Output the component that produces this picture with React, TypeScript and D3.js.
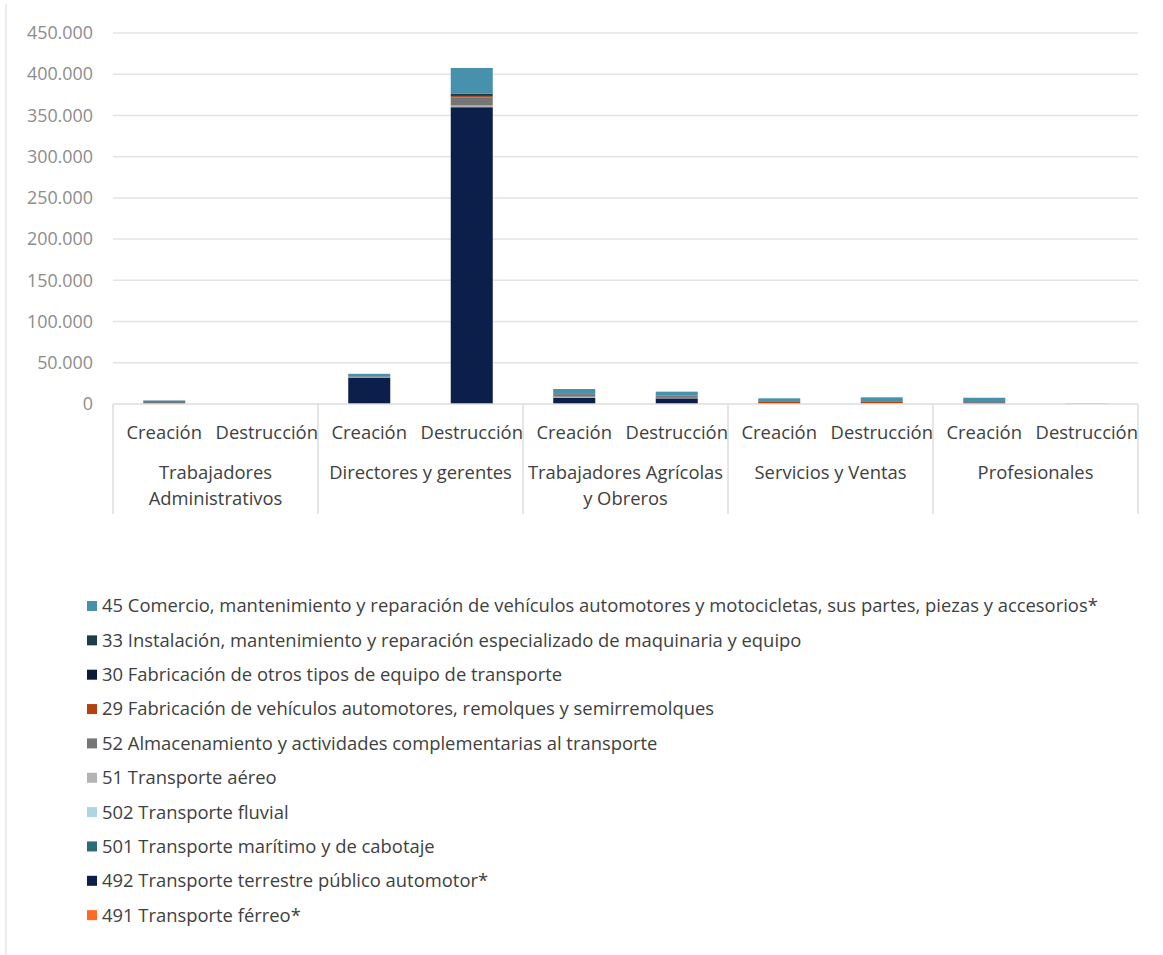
import React from "react";
import * as d3 from "d3";

const groups = [
  ["Trabajadores", "Administrativos"],
  ["Directores y gerentes"],
  ["Trabajadores Agrícolas", "y Obreros"],
  ["Servicios y Ventas"],
  ["Profesionales"],
];
const subs = ["Creación", "Destrucción"];

// stacking order bottom -> top
const seriesNames = [
  "491 Transporte férreo*",
  "492 Transporte terrestre público automotor*",
  "501 Transporte marítimo y de cabotaje",
  "502 Transporte fluvial",
  "51 Transporte aéreo",
  "52 Almacenamiento y actividades complementarias al transporte",
  "29 Fabricación de vehículos automotores, remolques y semirremolques",
  "30 Fabricación de otros tipos de equipo de transporte",
  "33 Instalación, mantenimiento y reparación especializado de maquinaria y equipo",
  "45 Comercio, mantenimiento y reparación de vehículos automotores y motocicletas, sus partes, piezas y accesorios*",
];
const seriesColors = [
  "#FF6B25", "#0C1F4B", "#2B6B78", "#ADD5E3", "#B3B3B3",
  "#767676", "#B4420F", "#0D1A36", "#1C3F47", "#4891AC",
];

const s491 = [0, 0, 0, 0, 0, 0, 0, 0, 0, 0];
const s492 = [0, 0, 32000, 360000, 7700, 6900, 0, 0, 0, 0];
const s501 = [0, 0, 0, 0, 0, 0, 0, 0, 0, 0];
const s502 = [0, 0, 0, 0, 0, 0, 0, 0, 0, 400];
const s51 = [0, 0, 500, 2000, 1200, 600, 0, 0, 0, 800];
const s52 = [3800, 0, 800, 9700, 3000, 2800, 0, 800, 2400, 0];
const s29 = [0, 0, 0, 1700, 0, 0, 2500, 2500, 0, 0];
const s30 = [0, 0, 0, 1200, 0, 0, 0, 0, 0, 0];
const s33 = [0, 0, 300, 2000, 300, 200, 0, 0, 0, 0];
const s45 = [600, 0, 3000, 31000, 6000, 4500, 4400, 4800, 5200, 0];
const seriesValues = [s491, s492, s501, s502, s51, s52, s29, s30, s33, s45];

const yTicks = [0, 50000, 100000, 150000, 200000, 250000, 300000, 350000, 400000, 450000];

const FONT = "'Open Sans', sans-serif";

export default function App() {
  const left = 113, right = 1138, top = 33, bottom = 404;
  const y = d3.scaleLinear().domain([0, 450000]).range([bottom, top]);
  const barKeys = d3.range(groups.length * subs.length).map(String);
  const x = d3.scaleBand().domain(barKeys).range([left, right]).paddingInner(0.59).paddingOuter(0.295);
  const gx = d3.scaleBand().domain(groups.map((_, i) => String(i))).range([left, right]);

  const rows = barKeys.map((k, i) => {
    const r: any = { key: k };
    seriesNames.forEach((n, j) => (r[n] = seriesValues[j][i]));
    return r;
  });
  const stacked = d3.stack().keys(seriesNames)(rows);
  const fmt = (v: number) => (v === 0 ? "0" : d3.format(",")(v).replace(/,/g, "."));

  const legendOrder = seriesNames.map((_, i) => seriesNames.length - 1 - i);

  return (
    <svg width={1163} height={955} style={{ position: "absolute", left: 0, top: 0, background: "#fff" }} fontFamily={FONT}>
      <line x1={6} x2={6} y1={4} y2={955} stroke="#d9d9d9" />
      {yTicks.map((t) => (
        <g key={t}>
          {t > 0 && <line x1={left} x2={right} y1={y(t)} y2={y(t)} stroke="#e3e3e3" strokeWidth={1.5} />}
          <text x={93} y={y(t)} dy="0.35em" textAnchor="end" fontSize={17.9} fill="#8c8c8c">
            {fmt(t)}
          </text>
        </g>
      ))}
      {stacked.map((layer, j) => (
        <g key={j} fill={seriesColors[j]}>
          {layer.map((d, i) =>
            d[1] - d[0] > 0 ? (
              <rect key={i} x={x(barKeys[i])} width={x.bandwidth()} y={y(d[1])} height={y(d[0]) - y(d[1])} />
            ) : null
          )}
        </g>
      ))}
      <line x1={left} x2={right} y1={bottom} y2={bottom} stroke="#dcdcdc" strokeWidth={1.5} />
      {groups.map((_, i) => (
        <line key={i} x1={gx(String(i))} x2={gx(String(i))} y1={bottom} y2={514} stroke="#dcdcdc" strokeWidth={1.5} />
      ))}
      <line x1={right} x2={right} y1={bottom} y2={514} stroke="#dcdcdc" strokeWidth={1.5} />
      {barKeys.map((k, i) => (
        <text key={k} x={x(k)! + x.bandwidth() / 2} y={433} dy="0.35em" textAnchor="middle" fontSize={18.4} fill="#404040">
          {subs[i % 2]}
        </text>
      ))}
      {groups.map((g, i) => (
        <text key={i} x={gx(String(i))! + gx.bandwidth() / 2} y={473} textAnchor="middle" fontSize={18.4} fill="#404040">
          {g.map((line, li) => (
            <tspan key={li} x={gx(String(i))! + gx.bandwidth() / 2} dy={li === 0 ? "0.35em" : 26}>
              {line}
            </tspan>
          ))}
        </text>
      ))}
      {legendOrder.map((si, r) => {
        const ly = 606 + r * 34.35;
        return (
          <g key={si}>
            <rect x={87} y={ly - 5} width={10} height={10} fill={seriesColors[si]} />
            <text x={102} y={ly} dy="0.35em" fontSize={18.4} fill="#404040">
              {seriesNames[si]}
            </text>
          </g>
        );
      })}
    </svg>
  );
}
